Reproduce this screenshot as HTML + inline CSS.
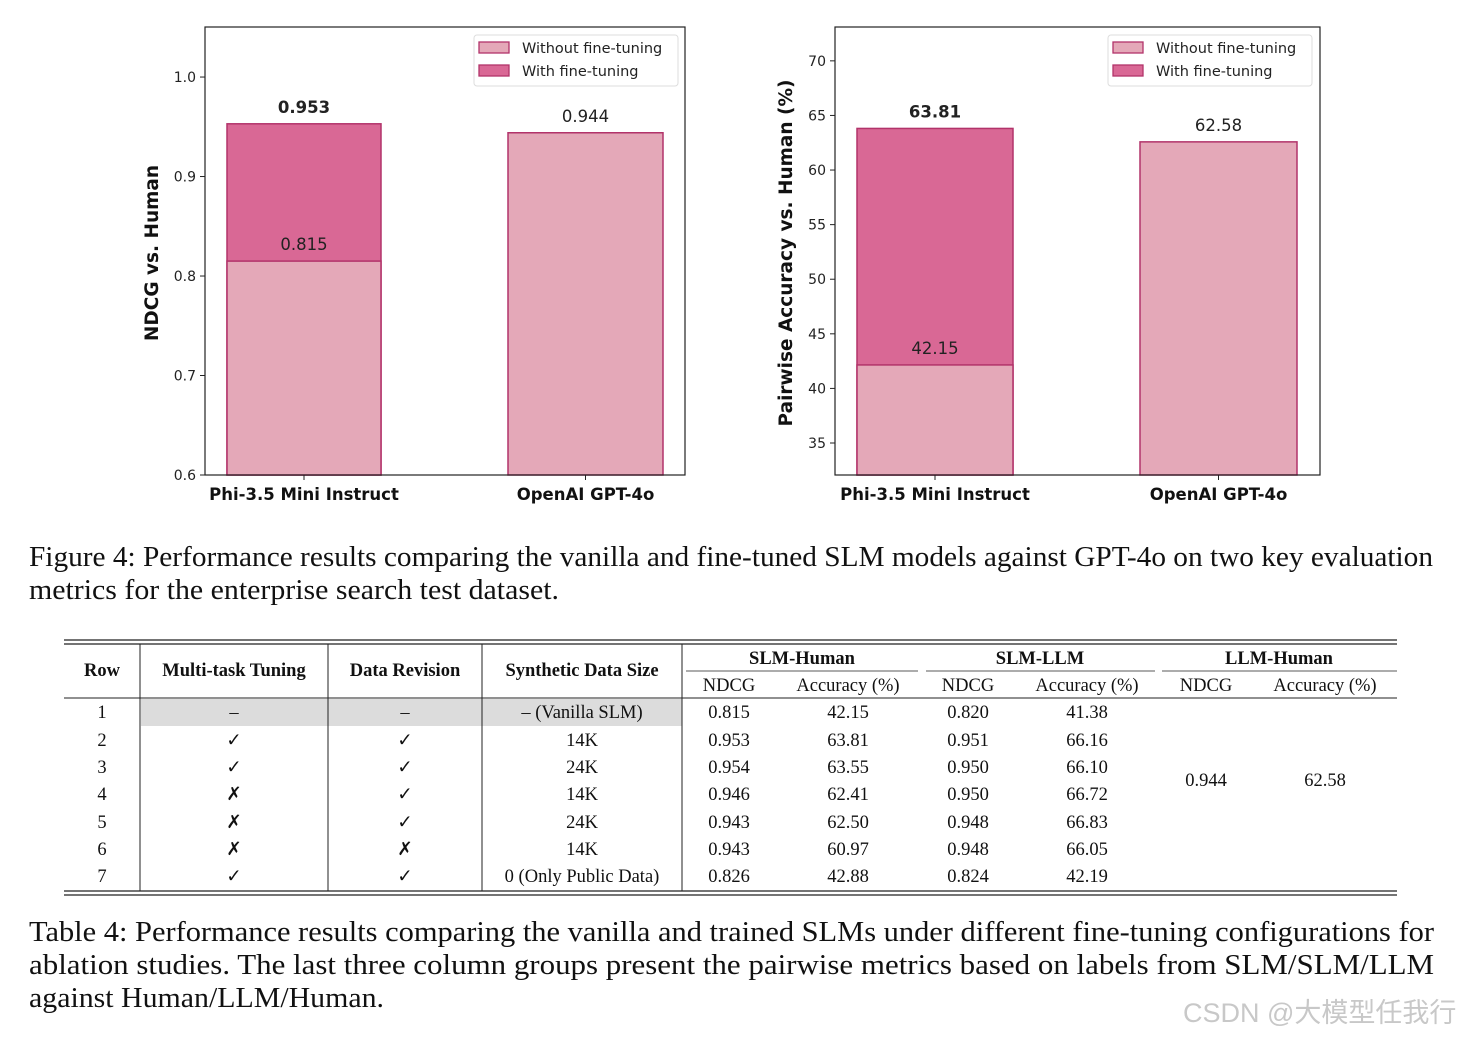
<!DOCTYPE html>
<html><head><meta charset="utf-8"><style>
body{margin:0;background:#fff;}
svg{display:block;}
.tick{font-family:"DejaVu Sans",sans-serif;font-size:14px;fill:#222;}
.cat{font-family:"DejaVu Sans",sans-serif;font-size:16.5px;font-weight:bold;fill:#111;}
.yt{font-family:"DejaVu Sans",sans-serif;font-size:18.5px;font-weight:bold;fill:#111;}
.lbl{font-family:"DejaVu Sans",sans-serif;font-size:16.5px;fill:#222;}
.leg{font-family:"DejaVu Sans",sans-serif;font-size:14.5px;fill:#222;}
.cap{font-family:"Liberation Serif",serif;font-size:28px;fill:#111;}
.th{font-family:"Liberation Serif",serif;font-size:18.5px;font-weight:bold;fill:#111;}
.td{font-family:"Liberation Serif",serif;font-size:18.5px;fill:#111;}
</style></head><body>
<svg id="root" width="1466" height="1038" viewBox="0 0 1466 1038" xmlns="http://www.w3.org/2000/svg">
<g id="c1"></g>
<g id="c2"></g>
<text class="cap" x="29" y="566" textLength="1404" lengthAdjust="spacingAndGlyphs">Figure 4: Performance results comparing the vanilla and fine-tuned SLM models against GPT-4o on two key evaluation</text>
<text class="cap" x="29" y="599" textLength="530" lengthAdjust="spacingAndGlyphs">metrics for the enterprise search test dataset.</text>
<g id="tbl"></g>
<text class="cap" x="29" y="941" textLength="1405" lengthAdjust="spacingAndGlyphs">Table 4: Performance results comparing the vanilla and trained SLMs under different fine-tuning configurations for</text>
<text class="cap" x="29" y="974" textLength="1405" lengthAdjust="spacingAndGlyphs">ablation studies. The last three column groups present the pairwise metrics based on labels from SLM/SLM/LLM</text>
<text class="cap" x="29" y="1007" textLength="355" lengthAdjust="spacingAndGlyphs">against Human/LLM/Human.</text>
<text x="1183" y="1022" style="font-family:'Liberation Sans','Noto Sans CJK SC',sans-serif;font-size:27px;fill:#c8c8c8">CSDN @大模型任我行</text>
</svg>
<script>
const categories = ["Phi-3.5 Mini Instruct", "OpenAI GPT-4o"];
const ndcgWithout = [0.815, 0.944];
const ndcgWith = [0.953, null];
const ndcgTicks = [0.6, 0.7, 0.8, 0.9, 1.0];
const accWithout = [42.15, 62.58];
const accWith = [63.81, null];
const accTicks = [35, 40, 45, 50, 55, 60, 65, 70];
const tableRows = [
 ["1","–","–","– (Vanilla SLM)","0.815","42.15","0.820","41.38"],
 ["2","✓","✓","14K","0.953","63.81","0.951","66.16"],
 ["3","✓","✓","24K","0.954","63.55","0.950","66.10"],
 ["4","✗","✓","14K","0.946","62.41","0.950","66.72"],
 ["5","✗","✓","24K","0.943","62.50","0.948","66.83"],
 ["6","✗","✗","14K","0.943","60.97","0.948","66.05"],
 ["7","✓","✓","0 (Only Public Data)","0.826","42.88","0.824","42.19"]
];
const llmHuman = ["0.944","62.58"];

const NS="http://www.w3.org/2000/svg";
function mk(parent,tag,attrs,text){const e=document.createElementNS(NS,tag);for(const k in attrs)e.setAttribute(k,attrs[k]);if(text!==undefined)e.textContent=text;parent.appendChild(e);return e;}
const LIGHT="#e4a8b8",DARK="#d96895",EDGE="#b2336a";

function chart(g,cfg){
  const {x0,x1,y0,y1,vmin,vmax,ticks,fmt,without,withv,labfmt,ytitle,bars,legX}=cfg;
  const Y=v=>y1-(v-vmin)/(vmax-vmin)*(y1-y0);
  ticks.forEach(t=>{
    const ty=Y(t);
    let l=mk(g,'line',{x1:x0-5,x2:x0,y1:ty,y2:ty,stroke:'#222','stroke-width':1});
    
    
    let tx=mk(g,'text',{class:'tick',x:x0-9,y:ty+5,'text-anchor':'end'},fmt(t));
    
    
  });
  categories.forEach((c,i)=>{
    const [bx,bw]=bars[i];
    const cx=bx+bw/2;
    const base=Y(vmin);
    if(withv[i]!==null){
      let r=mk(g,'rect',{x:bx,y:Y(withv[i]),width:bw,height:base-Y(withv[i]),fill:DARK,stroke:EDGE,'stroke-width':1.5});
      
      
      let t=mk(g,'text',{class:'lbl',x:cx,y:Y(withv[i])-11,'text-anchor':'middle','font-weight':'bold'},labfmt(withv[i]));
      
      
    }
    let r2=mk(g,'rect',{x:bx,y:Y(without[i]),width:bw,height:base-Y(without[i]),fill:LIGHT,stroke:EDGE,'stroke-width':1.5});
    
    
    let t2=mk(g,'text',{class:'lbl',x:cx,y:Y(without[i])-11,'text-anchor':'middle'},labfmt(without[i]));
    
    
    let tk=mk(g,'line',{x1:cx,x2:cx,y1:y1,y2:y1+5,stroke:'#222'});
    
    
    let ct=mk(g,'text',{class:'cat',x:cx,y:y1+25,'text-anchor':'middle'},c);
    
    
  });
  let fr=mk(g,'rect',{x:x0,y:y0,width:x1-x0,height:y1-y0,fill:'none',stroke:'#222','stroke-width':1.2});
  
  
  let yt=mk(g,'text',{class:'yt',transform:`translate(${cfg.ytx},${cfg.ytc}) rotate(-90)`,'text-anchor':'middle'},ytitle);
  
  
  const lg=mk(g,'g',{});
  
  
  mk(lg,'rect',{x:legX,y:35,width:204,height:51,rx:3,fill:'#fff',stroke:'#ddd'});
  [[LIGHT,'Without fine-tuning',48],[DARK,'With fine-tuning',71]].forEach(([col,txt,yy])=>{
    let s=mk(lg,'rect',{x:legX+5,y:yy-6,width:30,height:11,fill:col,stroke:EDGE,'stroke-width':1.3});
    
    
    let t=mk(lg,'text',{class:'leg',x:legX+48,y:yy+5},txt);
    
    
  });
}
chart(document.getElementById('c1'),{x0:205,x1:685,y0:27,y1:475,vmin:0.6,vmax:1.0503,ticks:ndcgTicks,fmt:v=>v.toFixed(1),without:ndcgWithout,withv:ndcgWith,labfmt:v=>v.toFixed(3),ytitle:'NDCG vs. Human',ytx:158,ytc:253,bars:[[227,154],[508,155]],legX:474});
chart(document.getElementById('c2'),{x0:835,x1:1320,y0:27,y1:475,vmin:32.07,vmax:73.1,ticks:accTicks,fmt:v=>String(v),without:accWithout,withv:accWith,labfmt:v=>v.toFixed(2),ytitle:'Pairwise Accuracy vs. Human (%)',ytx:792,ytc:253,bars:[[857,156],[1140,157]],legX:1108});

// table
const T=document.getElementById('tbl');
function hl(x1,x2,y,w){mk(T,'line',{x1,x2,y1:y,y2:y,stroke:'#222','stroke-width':w||1});}
function vl(x,ya,yb){mk(T,'line',{x1:x,x2:x,y1:ya,y2:yb,stroke:'#222','stroke-width':1});}
hl(64,1397,640,1.3);hl(64,1397,644,1.3);
hl(64,1397,698,1);
hl(64,1397,891,1.3);hl(64,1397,895,1.3);
hl(686,918,671,0.8);hl(926,1155,671,0.8);hl(1162,1397,671,0.8);
mk(T,'rect',{x:141,y:699,width:541,height:27,fill:'#dcdcdc'});
[140,328,482,682].forEach(x=>vl(x,644,891));
const rowY=[712,740,767,794,822,849,876];
const colX=[102,234,405,582,729,848,968,1087];
[["Row",102],["Multi-task Tuning",234],["Data Revision",405],["Synthetic Data Size",582]].forEach(([t,x])=>{
  let e=mk(T,'text',{class:'th',x,y:676,'text-anchor':'middle'},t);
  
  
});
[["SLM-Human",802],["SLM-LLM",1040],["LLM-Human",1279]].forEach(([t,x])=>{
  let e=mk(T,'text',{class:'th',x,y:664,'text-anchor':'middle'},t);
  
  
});
[["NDCG",729],["Accuracy (%)",848],["NDCG",968],["Accuracy (%)",1087],["NDCG",1206],["Accuracy (%)",1325]].forEach(([t,x])=>{
  let e=mk(T,'text',{class:'td',x,y:691,'text-anchor':'middle'},t);
  
  
});
tableRows.forEach((r,i)=>{
  r.forEach((v,j)=>{
    let e=mk(T,'text',{class:'td',x:colX[j],y:rowY[i]+6,'text-anchor':'middle'},v);
    
    
  });
});
[[llmHuman[0],1206],[llmHuman[1],1325]].forEach(([v,x])=>{
  let e=mk(T,'text',{class:'td',x,y:786,'text-anchor':'middle'},v);
  
  
});
</script>
</body></html>
